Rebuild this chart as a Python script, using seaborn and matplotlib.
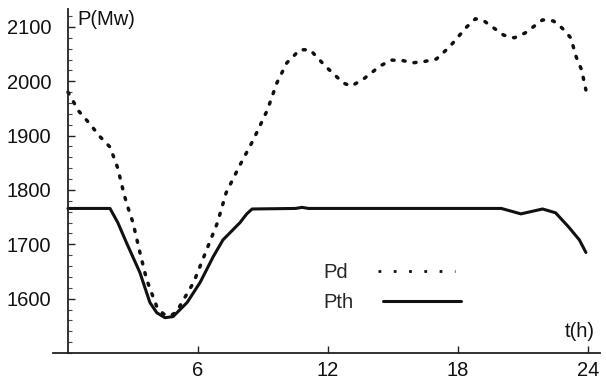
import numpy as np
import pandas as pd
import matplotlib
matplotlib.use('Agg')
import matplotlib.pyplot as plt
from matplotlib.lines import Line2D
from matplotlib.ticker import MultipleLocator
import seaborn as sns

# demand curve Pd (dotted)
t_pd = [0.0, 0.5, 1.0, 1.48, 1.94, 2.3, 2.54, 2.7, 3.0, 3.32, 3.63, 4.1, 4.4, 4.7, 5.0, 5.26,
        5.8, 6.4, 6.9, 7.3, 7.9, 8.55, 9.2, 9.64, 10.1, 10.7, 11.17, 11.9, 12.7, 13.06, 13.6,
        14.4, 14.9, 15.46, 15.9, 16.4, 17.0, 17.6, 18.4, 18.8, 19.2, 20.1, 20.6, 21.1, 21.9,
        22.4, 22.8, 23.2, 23.45, 23.7, 23.9]
p_pd = [1980, 1945, 1922, 1898, 1879, 1840, 1800, 1776, 1740, 1685, 1635, 1585, 1572, 1568, 1575, 1593,
        1630, 1690, 1740, 1795, 1843, 1892, 1947, 1997, 2034, 2058, 2058, 2027, 1997, 1991, 2003,
        2028, 2039, 2038, 2034, 2036, 2041, 2063, 2100, 2115, 2111, 2085, 2080, 2089, 2113,
        2111, 2098, 2080, 2045, 2021, 1984]

# thermal generation Pth (solid)
t_pth = [0.0, 1.0, 1.94, 2.3, 2.7, 3.32, 3.78, 4.1, 4.48, 4.85, 5.5, 6.1, 6.7, 7.15, 7.94, 8.25, 8.5,
         10.5, 10.8, 11.1, 14.0, 18.0, 20.0, 20.9, 21.9, 22.5, 23.1, 23.6, 23.9]
p_pth = [1766, 1766, 1766, 1740, 1703, 1648, 1593, 1574, 1565, 1567, 1593, 1630, 1677, 1708, 1740, 1756, 1765,
         1766, 1768, 1766, 1766, 1766, 1766, 1756, 1765, 1758, 1732, 1708, 1685]

x_ticks = [6, 12, 18, 24]
y_ticks = [1600, 1700, 1800, 1900, 2000, 2100]

sns.set_theme(style='white')
plt.rcParams['font.family'] = ['Liberation Sans', 'DejaVu Sans']

fig = plt.figure(figsize=(6.06, 3.80), dpi=100)
ax = fig.add_axes([53 / 606, 27 / 380, 547 / 606, 344 / 380])

df_pd = pd.DataFrame({'t': t_pd, 'P': p_pd})
df_pth = pd.DataFrame({'t': t_pth, 'P': p_pth})
sns.lineplot(data=df_pd, x='t', y='P', ax=ax, color='#111111', lw=2.5,
             linestyle=(0, (0.6, 2.6)), dash_capstyle='round')
sns.lineplot(data=df_pth, x='t', y='P', ax=ax, color='#111111', lw=2.2)

ax.set_xlim(-0.69, 24.55)
ax.set_ylim(1500, 2133)
ax.set_xlabel('')
ax.set_ylabel('')

for s in ['top', 'right']:
    ax.spines[s].set_visible(False)
ax.spines['left'].set_position(('data', 0))
for s in ['left', 'bottom']:
    ax.spines[s].set_color('#222222')
    ax.spines[s].set_linewidth(1.3)

ax.set_xticks(x_ticks)
ax.set_yticks(y_ticks)
ax.yaxis.set_minor_locator(MultipleLocator(20))
ax.tick_params(axis='both', which='major', direction='in', length=5, width=1,
               color='#222222', labelsize=14.5, labelcolor='#111111')
ax.tick_params(axis='y', which='major', pad=12, left=True)
ax.tick_params(axis='x', which='major', pad=6, bottom=True)
ax.tick_params(axis='y', which='minor', direction='in', length=3, width=0.8,
               color='#444444', left=True)

ax.text(0.45, 2113, 'P(Mw)', fontsize=14.5, color='#111111', va='center', ha='left')
ax.text(24.3, 1540, 't(h)', fontsize=14.5, color='#111111', va='center', ha='right')

handles = [Line2D([], [], color='#111111', lw=2, linestyle=(0, (1, 4.5))),
           Line2D([], [], color='#111111', lw=2.2)]
leg = ax.legend(handles, ['Pd', 'Pth'], loc='center left', bbox_to_anchor=(0.495, 0.19),
                frameon=False, markerfirst=False, fontsize=14.5, handlelength=3.85,
                handletextpad=1.45, labelspacing=0.55, borderpad=0, borderaxespad=0)
# keep the labels left aligned like the original
for col in leg._legend_handle_box.get_children():
    col.align = 'left'

fig.savefig('out.png', dpi=100)
